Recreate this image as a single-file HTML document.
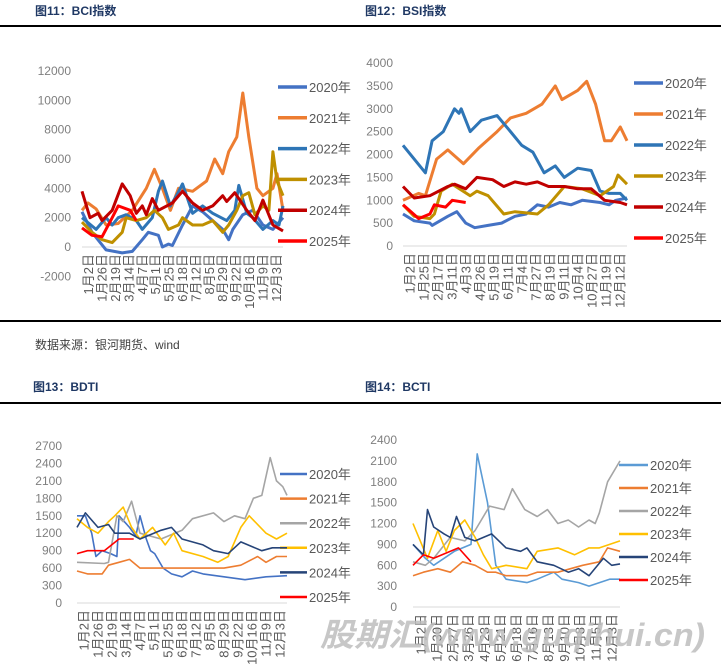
<!DOCTYPE html>
<html><head><meta charset="utf-8">
<style>
body{margin:0;background:#fff;width:721px;height:665px;overflow:hidden;font-family:"Liberation Sans","Noto Sans CJK SC",sans-serif;}
</style></head>
<body>
<svg id="s" width="721" height="665" xmlns="http://www.w3.org/2000/svg" style="position:absolute;left:0;top:0">
<g font-family="Liberation Sans, Noto Sans CJK SC, sans-serif">
<text x="35" y="15" font-size="12" font-weight="bold" fill="#1f3864">图11：BCI指数</text>
<text x="365" y="15" font-size="12" font-weight="bold" fill="#1f3864">图12：BSI指数</text>
<rect x="0" y="25" width="721" height="2" fill="#000"/>
<rect x="0" y="320" width="721" height="2" fill="#000"/>
<text x="35" y="349" font-size="12" fill="#404040">数据来源：银河期货、wind</text>
<text x="33" y="391" font-size="12" font-weight="bold" fill="#1f3864">图13：BDTI</text>
<text x="365" y="391" font-size="12" font-weight="bold" fill="#1f3864">图14：BCTI</text>
<rect x="0" y="402" width="721" height="2" fill="#000"/>
</g>
<g id="c"></g>
<text x="320" y="646" font-size="32" font-weight="bold" font-style="italic" fill="#bdbdbd" fill-opacity="0.85" textLength="385" lengthAdjust="spacingAndGlyphs" font-family="Liberation Sans, Noto Sans CJK SC, sans-serif">股期汇(www.guqihui.cn)</text>
</svg>
<script>
var NS="http://www.w3.org/2000/svg",G=document.getElementById("c");
function el(t,a,txt){var e=document.createElementNS(NS,t);for(var k in a)e.setAttribute(k,a[k]);if(txt!==undefined)e.textContent=txt;G.appendChild(e);return e;}
function chart(o){
  var yf=function(v){return o.y0-(v-0)*(o.y0-o.yTop)/o.vTop;};
  for(var v=o.vMin;v<=o.vTop+1e-6;v+=o.step){
    el("text",{x:o.lx,y:yf(v)+4,"font-size":o.fs,fill:"#7f7f7f","text-anchor":"end","font-family":"Liberation Sans, sans-serif"},String(v<0?"-"+(-v):v));
  }
  el("line",{x1:o.x0,x2:o.x1,y1:o.y0,y2:o.y0,stroke:"#d9d9d9","stroke-width":1});
  var n=o.labels.length;
  for(var i=0;i<n;i++){
    var x=o.x0+(o.x1-o.x0)*(i+0.5)/n;
    el("text",{transform:"translate("+(x+4.5)+","+(o.y0+7)+") rotate(-90)","font-size":13,fill:"#595959","text-anchor":"end","font-family":"Liberation Sans, Noto Sans CJK SC, sans-serif"},o.labels[i]);
  }
  o.series.forEach(function(s,k){
    var p=s.d.map(function(q){return (o.x0+(o.x1-o.x0)*q[1]).toFixed(1)+","+yf(q[0]).toFixed(1);}).join(" ");
    el("polyline",{points:p,fill:"none",stroke:s.c,"stroke-width":o.sw,"stroke-linejoin":"round"});
    var ly=o.leg[1]+k*o.leg[2];
    el("line",{x1:o.leg[0],x2:o.leg[0]+o.leg[3],y1:ly,y2:ly,stroke:s.c,"stroke-width":o.lw});
    el("text",{x:o.leg[0]+o.leg[3]+2,y:ly+5,"font-size":13,fill:"#595959","font-family":"Liberation Sans, Noto Sans CJK SC, sans-serif"},s.n);
  });
}
var L15=["1月2日","1月26日","2月19日","3月14日","4月7日","5月1日","5月25日","6月18日","7月12日","8月5日","8月29日","9月22日","10月16日","11月9日","12月3日"];
function P(a){var r=[];for(var i=0;i<a.length;i+=2)r.push([a[i],a[i+1]]);return r;}
chart({x0:82,x1:283,y0:247,yTop:71,vTop:12000,vMin:-2000,step:2000,lx:71,fs:12,sw:3,lw:3.5,leg:[278,87,30.8,29],labels:L15,series:[
{n:"2020年",c:"#4472C4",d:P([2400,0,1000,.05,-200,.12,-400,.2,-300,.25,500,.3,1000,.33,800,.38,0,.4,200,.43,100,.45,1500,.5,2800,.55,2400,.6,1800,.65,1200,.7,500,.73,1200,.75,2200,.8,2500,.85,1500,.9,1200,.95,2000,1])},
{n:"2021年",c:"#ED7D31",d:P([2500,0,3000,.03,2600,.07,1500,.12,1600,.18,2500,.25,4000,.32,5300,.36,4000,.4,2500,.44,4000,.48,3800,.55,4500,.62,6000,.66,5000,.7,6500,.73,7500,.77,10500,.8,7500,.83,4000,.87,3500,.9,4000,.95,5000,.97,2500,1])},
{n:"2022年",c:"#2E75B6",d:P([2000,0,1200,.07,2000,.12,1500,.15,2000,.18,2200,.22,1800,.27,1200,.3,2000,.35,3800,.38,4500,.4,2800,.44,3500,.47,4300,.5,2300,.55,2800,.6,2300,.65,1800,.72,2500,.76,4200,.78,2300,.82,2000,.85,1200,.9,1800,.95,1500,.98,2800,1])},
{n:"2023年",c:"#BF9000",d:P([1700,0,1000,.05,500,.1,300,.15,1000,.2,2000,.22,1800,.27,2000,.32,2500,.36,2000,.4,1200,.43,1500,.48,2000,.5,1500,.55,1500,.6,1800,.65,1000,.7,1500,.73,2500,.77,3500,.8,3700,.83,2200,.86,2800,.9,2500,.93,6500,.95,4500,.97,3500,1])},
{n:"2024年",c:"#C00000",d:P([3800,0,2000,.04,2300,.08,1800,.1,2500,.15,4300,.2,3500,.24,2300,.27,2800,.3,2200,.32,3300,.35,2500,.38,3000,.45,3800,.5,3000,.55,2500,.6,2800,.65,3500,.7,3100,.72,3700,.76,2500,.82,1800,.86,3200,.9,1500,.95,1100,1])},
{n:"2025年",c:"#FF0000",d:P([1300,0,800,.05,700,.1,2000,.15,2800,.18,2500,.24,1800,.27])}]});
chart({x0:403,x1:627,y0:246,yTop:63,vTop:4000,vMin:0,step:500,lx:393,fs:12,sw:3,lw:3.5,leg:[634,83,31,29],labels:["1月2日","1月25日","2月17日","3月11日","4月3日","4月26日","5月19日","6月11日","7月4日","7月27日","8月19日","9月11日","10月4日","10月27日","11月19日","12月12日"],series:[
{n:"2020年",c:"#4472C4",d:P([700,0,550,.05,500,.12,450,.13,650,.2,750,.24,500,.28,400,.32,450,.38,500,.44,650,.5,700,.55,900,.6,850,.65,950,.7,900,.75,1000,.8,950,.88,900,.92,1000,.95,1050,1])},
{n:"2021年",c:"#ED7D31",d:P([1000,0,1150,.07,1100,.1,1900,.15,2100,.2,1800,.27,2150,.34,2500,.42,2800,.48,2900,.55,3100,.62,3500,.68,3200,.71,3400,.78,3600,.82,3100,.86,2300,.9,2300,.93,2600,.97,2300,1])},
{n:"2022年",c:"#2E75B6",d:P([2200,0,1600,.1,2300,.13,2500,.18,3000,.23,2900,.25,3000,.26,2500,.3,2750,.35,2850,.42,2500,.48,2200,.53,2050,.58,1600,.63,1750,.68,1500,.72,1700,.78,1650,.84,1200,.88,1150,.92,1150,.97,1000,1])},
{n:"2023年",c:"#BF9000",d:P([900,0,650,.05,600,.12,700,.14,1200,.17,1350,.22,1100,.3,1200,.33,1100,.38,700,.45,750,.5,700,.6,900,.65,1300,.72,1250,.8,1100,.88,1300,.94,1550,.96,1350,1])},
{n:"2024年",c:"#C00000",d:P([1300,0,1050,.05,1100,.12,1300,.2,1350,.23,1250,.28,1500,.33,1450,.4,1300,.45,1400,.5,1350,.55,1400,.6,1300,.65,1300,.72,1250,.78,1250,.84,1000,.9,950,.97,900,1])},
{n:"2025年",c:"#FF0000",d:P([900,0,600,.07,700,.12,900,.14,850,.19,1000,.22,950,.28])}]});
chart({x0:77,x1:287,y0:603,yTop:446,vTop:2700,vMin:0,step:300,lx:62,fs:12,sw:1.6,lw:2.5,leg:[280,474,24.6,27],labels:L15,series:[
{n:"2020年",c:"#4472C4",d:P([1500,0,1500,.04,1200,.07,800,.09,900,.12,850,.16,800,.19,1500,.2,1300,.25,1150,.28,1500,.3,1100,.33,900,.35,850,.37,600,.41,500,.45,450,.5,550,.55,500,.6,450,.7,400,.8,450,.9,470,1])},
{n:"2021年",c:"#ED7D31",d:P([550,0,500,.05,500,.12,650,.15,700,.2,750,.25,600,.3,600,.45,600,.5,600,.7,650,.78,800,.86,700,.9,800,.95,800,1])},
{n:"2022年",c:"#A5A5A5",d:P([700,0,680,.13,700,.15,1500,.19,1400,.22,1750,.26,1200,.3,1100,.4,1250,.5,1450,.55,1550,.65,1400,.7,1500,.75,1450,.8,1800,.84,1850,.88,2500,.92,2100,.95,2000,.98,1850,1])},
{n:"2023年",c:"#FFC000",d:P([1450,0,1300,.05,1200,.1,1400,.15,1500,.18,1650,.22,1300,.26,1100,.3,1300,.36,1000,.42,1200,.46,900,.5,800,.6,700,.67,800,.72,1300,.78,1500,.82,1200,.9,1100,.95,1200,1])},
{n:"2024年",c:"#264478",d:P([1300,0,1550,.04,1300,.1,1350,.15,1200,.18,1200,.25,1100,.3,1250,.4,1300,.45,1100,.5,1000,.6,900,.65,850,.72,1050,.78,900,.88,950,.93,950,1])},
{n:"2025年",c:"#FF0000",d:P([850,0,900,.05,900,.13,1100,.2,1100,.27])}]});
chart({x0:413,x1:620,y0:607,yTop:440,vTop:2400,vMin:0,step:300,lx:397,fs:12,sw:1.6,lw:2.5,leg:[619,465,23,29],labels:["1月2日","1月30日","2月27日","3月26日","4月23日","5月21日","6月18日","7月16日","8月13日","9月10日","10月8日","11月5日","12月3日"],series:[
{n:"2020年",c:"#5B9BD5",d:P([900,0,700,.06,600,.1,800,.2,900,.28,2200,.31,1500,.36,600,.4,400,.45,350,.55,400,.6,500,.68,400,.72,350,.8,300,.85,400,.95,400,1])},
{n:"2021年",c:"#ED7D31",d:P([450,0,500,.05,550,.12,500,.18,650,.24,600,.3,500,.36,500,.4,450,.45,450,.55,500,.6,500,.7,600,.82,650,.9,850,.94,800,1])},
{n:"2022年",c:"#A5A5A5",d:P([650,0,600,.06,700,.1,1000,.18,950,.25,1100,.3,1450,.37,1400,.44,1700,.48,1400,.54,1300,.6,1400,.65,1200,.7,1250,.75,1150,.8,1250,.85,1200,.88,1350,.9,1800,.94,2100,1])},
{n:"2023年",c:"#FFC000",d:P([1200,0,700,.07,1100,.12,800,.16,1100,.2,1250,.25,1000,.3,750,.34,550,.38,600,.45,550,.55,800,.6,850,.7,750,.78,850,.85,850,.9,950,1])},
{n:"2024年",c:"#264478",d:P([900,0,750,.05,1400,.07,1150,.1,1050,.15,1000,.18,1300,.21,1000,.25,950,.3,1050,.38,850,.45,800,.52,850,.55,650,.6,600,.68,500,.75,550,.8,450,.85,700,.92,600,.96,620,1])},
{n:"2025年",c:"#FF0000",d:P([600,0,750,.05,700,.1,850,.22,650,.28])}]});
</script>
</body></html>
